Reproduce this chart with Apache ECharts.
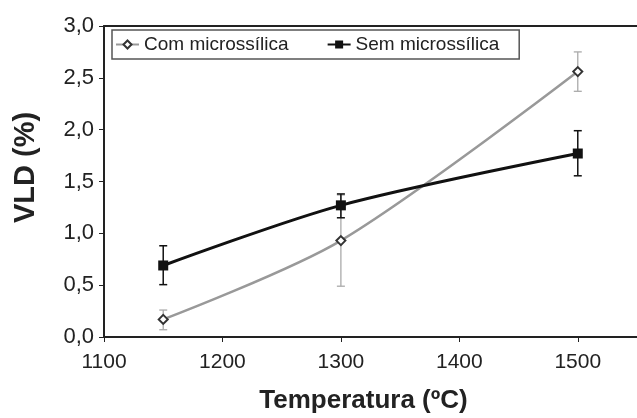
<!DOCTYPE html>
<html><head><meta charset="utf-8">
<script src="https://cdn.jsdelivr.net/npm/echarts@6/dist/echarts.min.js"></script>
<style>html,body{margin:0;padding:0;background:#fff}#c{width:637px;height:418px}</style>
</head><body><div id="c"></div>
<script>
const temps = [1150, 1300, 1500];
const comValues = [0.17, 0.93, 2.56];
const comLow = [0.07, 0.49, 2.37];
const comHigh = [0.26, 1.37, 2.75];
const semValues = [0.69, 1.27, 1.77];
const semLow = [0.505, 1.15, 1.555];
const semHigh = [0.88, 1.38, 1.99];
const seriesNames = ['Com microssílica', 'Sem microssílica'];
const xTitle = 'Temperatura (ºC)';
const yTitle = 'VLD (%)';

const FONT = 'Liberation Sans, Arial, sans-serif';
const chart = echarts.init(document.getElementById('c'));

function errSeries(low, high, color, lw) {
  return {
    type: 'custom',
    silent: true,
    z: 1,
    data: temps.map((t, i) => [t, low[i], high[i]]),
    renderItem: function (params, api) {
      const x = api.value(0);
      const p1 = api.coord([x, api.value(1)]);
      const p2 = api.coord([x, api.value(2)]);
      const w = 4;
      const st = { stroke: color, lineWidth: lw };
      return {
        type: 'group',
        children: [
          { type: 'line', shape: { x1: p1[0], y1: p1[1], x2: p2[0], y2: p2[1] }, style: st },
          { type: 'line', shape: { x1: p1[0] - w, y1: p1[1], x2: p1[0] + w, y2: p1[1] }, style: st },
          { type: 'line', shape: { x1: p2[0] - w, y1: p2[1], x2: p2[0] + w, y2: p2[1] }, style: st }
        ]
      };
    }
  };
}

chart.setOption({
  animation: false,
  backgroundColor: '#fff',
  textStyle: { fontFamily: FONT },
  grid: { left: 104, top: 26, right: 0, bottom: 81, containLabel: false, outerBoundsMode: 'none' },
  legend: {
    left: 112, top: 30,
    padding: [5, 20, 5, 3],
    borderColor: '#555', borderWidth: 1.5,
    itemGap: 38, itemWidth: 23, itemHeight: 10,
    textStyle: { fontFamily: FONT, fontSize: 19, color: '#222' },
    data: seriesNames
  },
  xAxis: [{
    type: 'value', min: 1100, max: 1550, interval: 100,
    name: xTitle, nameLocation: 'middle', nameGap: 51,
    nameTextStyle: { fontFamily: FONT, fontSize: 26, fontWeight: 'bold', color: '#222', padding: [0, 14, 0, 0] },
    axisLine: { lineStyle: { color: '#222', width: 2 } },
    axisTick: { show: true, length: 5, lineStyle: { color: '#222' } },
    axisLabel: { showMaxLabel: false, fontFamily: FONT, fontSize: 21, color: '#222', margin: 15,
      formatter: v => String(v) },
    splitLine: { show: false }
  }, {
    type: 'value', min: 1100, max: 1550, position: 'top',
    axisLine: { show: true, onZero: false, lineStyle: { color: '#222', width: 2 } },
    axisTick: { show: false }, axisLabel: { show: false }, splitLine: { show: false }
  }],
  yAxis: {
    type: 'value', min: 0, max: 3, interval: 0.5,
    name: yTitle, nameLocation: 'middle', nameGap: 64, nameRotate: 90,
    nameTextStyle: { fontFamily: FONT, fontSize: 29, fontWeight: 'bold', color: '#222', padding: [0, 0, 0, 28] },
    axisLine: { show: true, lineStyle: { color: '#222', width: 2 } },
    axisTick: { show: true, length: 5, lineStyle: { color: '#222' } },
    axisLabel: {
      fontFamily: FONT, fontSize: 22, color: '#222', margin: 10,
      formatter: v => v.toFixed(1).replace('.', ',')
    },
    splitLine: { show: false }
  },
  series: [
    errSeries(comLow, comHigh, '#aaa', 1.3),
    errSeries(semLow, semHigh, '#111', 1.5),
    {
      name: seriesNames[0], type: 'line', z: 3,
      data: temps.map((t, i) => [t, comValues[i]]),
      smooth: 0.3,
      symbol: 'emptyDiamond', symbolSize: 9,
      lineStyle: { color: '#999', width: 2.5 },
      itemStyle: { color: '#333', borderColor: '#333', borderWidth: 1.5 }
    },
    {
      name: seriesNames[1], type: 'line', z: 4,
      data: temps.map((t, i) => [t, semValues[i]]),
      smooth: 0.3,
      symbol: 'rect', symbolSize: 10,
      lineStyle: { color: '#111', width: 3 },
      itemStyle: { color: '#111' }
    }
  ]
});
</script></body></html>
